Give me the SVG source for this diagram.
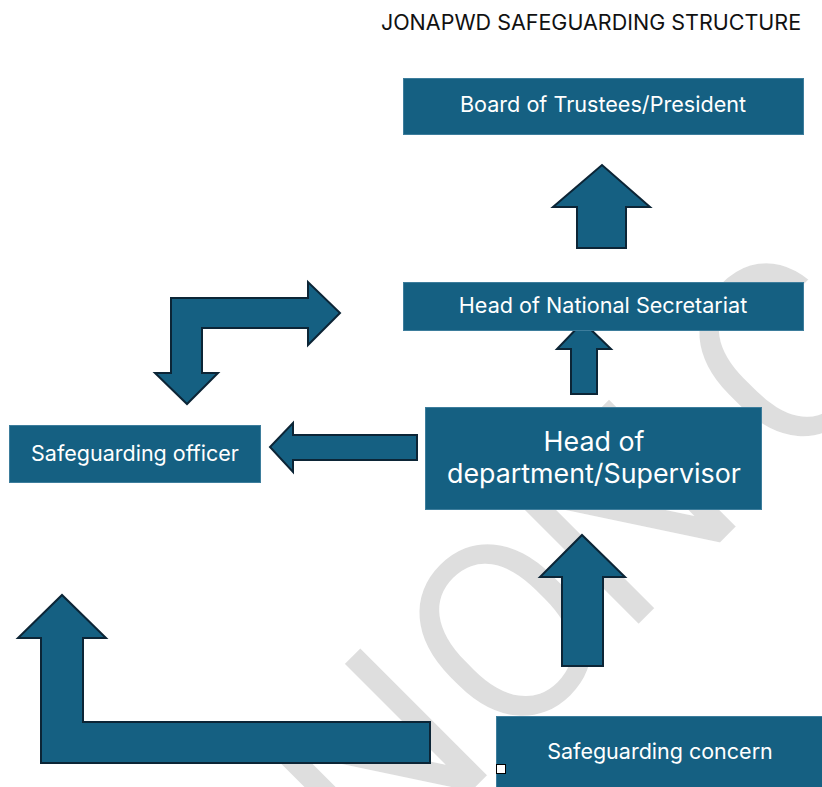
<svg xmlns="http://www.w3.org/2000/svg" width="822" height="787" viewBox="0 0 822 787">
<style>
.box{fill:#156082;stroke:#3d7d9c;stroke-width:1}
.arr{fill:#156082;stroke:#0c2536;stroke-width:2;stroke-linejoin:miter}
.lbl{font-family:Inter,"Open Sans","Liberation Sans",sans-serif;fill:#ffffff;text-anchor:middle}
.wm{font-family:Roboto,"Liberation Sans",sans-serif;font-size:255px;fill:#dedede;stroke:#ffffff;stroke-width:2;text-anchor:middle}
</style>
<rect width="822" height="787" fill="#ffffff"/>
<g id="watermark">
<text class="wm" transform="translate(505,630) rotate(-45)" x="-184 0 168 392" y="91">NONC</text>
</g>
<text id="title" x="591" y="30" font-family="Inter,'Liberation Sans',sans-serif" font-size="21.5" fill="#111111" text-anchor="middle">JONAPWD SAFEGUARDING STRUCTURE</text>
<g id="connectors">
<path class="arr" d="M577,248 L577,207 L553,207 L602,165 L650,207 L626,207 L626,248 Z"/>
<path class="arr" d="M571,394 L571,349 L557,349 L583,322 L611,349 L597,349 L597,394 Z"/>
<path class="arr" d="M417,435 L293,435 L293,423 L270,447 L293,472 L293,460 L417,460 Z"/>
<path class="arr" d="M171,298 L308,298 L308,282 L340,313 L308,345 L308,328 L202,328 L202,373 L218,373 L187,404 L155,373 L171,373 Z"/>
<path class="arr" d="M562,666 L562,577 L540,577 L582,535 L625,577 L603,577 L603,666 Z"/>
<path class="arr" d="M41,763 L41,638 L18,638 L62,595 L106,638 L83,638 L83,722 L430,722 L430,763 Z"/>
</g>
<g id="board">
<rect class="box" x="403.5" y="78.5" width="400" height="56"/>
<text class="lbl" x="603" y="112" font-size="21.6">Board of Trustees/President</text>
</g>
<g id="secretariat">
<rect class="box" x="403.5" y="282.5" width="400" height="48"/>
<text class="lbl" x="603" y="313" font-size="21.6">Head of National Secretariat</text>
</g>
<g id="hod">
<rect class="box" x="425.5" y="407.5" width="336" height="102"/>
<text class="lbl" x="594" y="451" font-size="26.8">Head of</text>
<text class="lbl" x="594" y="483" font-size="26.8">department/Supervisor</text>
</g>
<g id="officer">
<rect class="box" x="9.5" y="425.5" width="251" height="57"/>
<text class="lbl" x="135" y="461" font-size="21.5">Safeguarding officer</text>
</g>
<g id="concern">
<rect class="box" x="496.5" y="716.5" width="330" height="75"/>
<text class="lbl" x="660" y="759" font-size="21.5">Safeguarding concern</text>
<rect x="496.5" y="764.5" width="9" height="9" fill="#ffffff" stroke="#000000" stroke-width="1"/>
</g>
</svg>
